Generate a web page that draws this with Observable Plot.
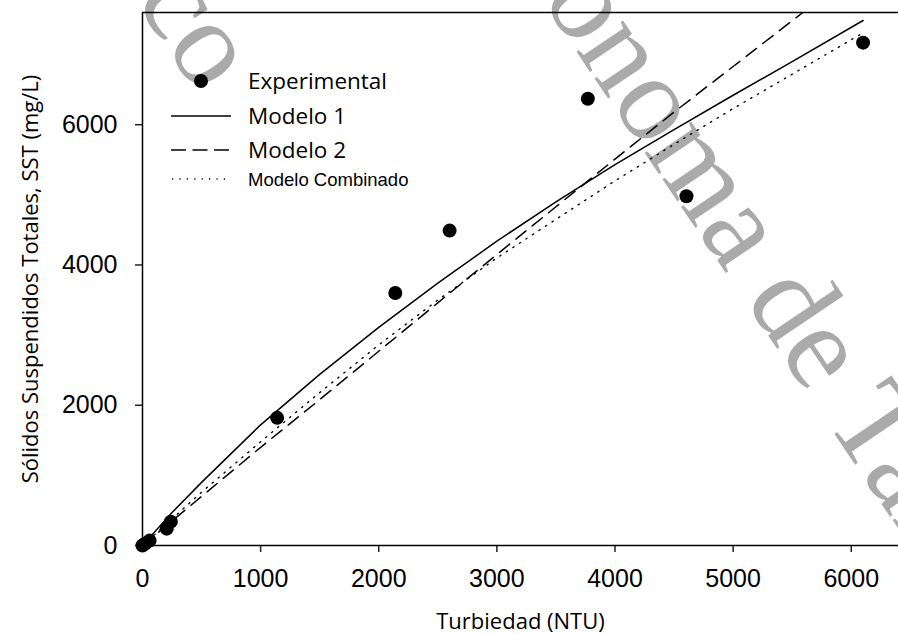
<!DOCTYPE html>
<html><head><meta charset="utf-8">
<script src="https://cdn.jsdelivr.net/npm/d3@7"></script>
<script src="https://cdn.jsdelivr.net/npm/@observablehq/plot@0.6"></script>
<style>
body{margin:0;background:#fff;}
#wrap{position:relative;width:898px;height:634px;overflow:hidden;background:#fff;}
#wrap svg{position:absolute;left:0;top:0;}
</style></head><body><div id="wrap"></div>
<script>
// Experimental points
const expX = [0, 25, 60, 205, 240, 1140, 2140, 2600, 3770, 4605, 6100];
const expY = [0, 30, 70, 240, 340, 1820, 3600, 4490, 6370, 4980, 7170];
// Modelo 1 (solid)
const m1X = [0, 250, 500, 1000, 1500, 2000, 2500, 3000, 3500, 4000, 4500, 5000, 5500, 6100];
const m1Y = [0, 470, 900, 1720, 2440, 3110, 3740, 4340, 4900, 5430, 5930, 6420, 6900, 7486];
// Modelo 2 (dashed)
const m2X = [0, 500, 1000, 1500, 2000, 2500, 3000, 3500, 4000, 4500, 5000, 5590];
const m2Y = [0, 700, 1400, 2080, 2770, 3460, 4150, 4830, 5510, 6180, 6830, 7600];
// Modelo Combinado (dotted)
const mcX = [0, 500, 1000, 1500, 2000, 2500, 3000, 3500, 4000, 4500, 5000, 5500, 6090];
const mcY = [0, 760, 1480, 2180, 2860, 3500, 4100, 4650, 5200, 5720, 6230, 6720, 7300];
const xTicks = [0, 1000, 2000, 3000, 4000, 5000, 6000];
const yTicks = [0, 2000, 4000, 6000];
const xDomain = [0, 6400];
const yDomain = [0, 7600];
const legendLabels = ["Experimental", "Modelo 1", "Modelo 2", "Modelo Combinado"];
const watermarkTexts = ["ico", "ónoma de Tamaulipas"];

const pts = expX.map((x, i) => ({x, y: expY[i]}));
const l1 = m1X.map((x, i) => ({x, y: m1Y[i]}));
const l2 = m2X.map((x, i) => ({x, y: m2Y[i]}));
const lc = mcX.map((x, i) => ({x, y: mcY[i]}));

const wrap = d3.select("#wrap");
// Watermark (behind chart)
const wm = wrap.append("svg").attr("width", 898).attr("height", 634);
const wmStyle = s => s.attr("fill", "#aaaaaa").style("font-family", "'Liberation Serif', 'Times New Roman', serif").style("font-size", "122px");
wm.append("text").attr("transform", "translate(115,-28) rotate(56)").call(wmStyle).text(watermarkTexts[0]);
wm.append("text").attr("transform", "translate(541,-1) rotate(56)").call(wmStyle).text(watermarkTexts[1]);

const chart = Plot.plot({
  width: 898, height: 634,
  marginLeft: 142, marginRight: 0, marginTop: 12, marginBottom: 89,
  style: {background: "transparent", color: "#000", overflow: "visible"},
  x: {domain: xDomain, ticks: xTicks},
  y: {domain: yDomain, ticks: yTicks},
  marks: [
    Plot.axisX({ticks: xTicks, tickSize: 7, tickPadding: 17, tickFormat: d => String(d),
      fontSize: 25, fontFamily: "Liberation Sans, Arial, sans-serif", stroke: "#222", strokeWidth: 1.5,
      label: "Turbiedad (NTU)", labelAnchor: "center", labelArrow: "none", labelOffset: 83}),
    Plot.axisY({ticks: yTicks, tickSize: 7, tickPadding: 18, tickFormat: d => String(d),
      fontSize: 25, fontFamily: "Liberation Sans, Arial, sans-serif", stroke: "#222", strokeWidth: 1.5,
      label: "Sólidos Suspendidos Totales, SST (mg/L)", labelAnchor: "center", labelArrow: "none", labelOffset: 120}),
    Plot.ruleY([yDomain[0]], {stroke: "#000", strokeWidth: 1.5}),
    Plot.ruleY([yDomain[1]], {stroke: "#000", strokeWidth: 1.5}),
    Plot.ruleX([xDomain[0]], {stroke: "#000", strokeWidth: 1.5}),
    Plot.line(lc, {x: "x", y: "y", stroke: "#000", strokeWidth: 1.4, strokeDasharray: "1.3,6.5", clip: true}),
    Plot.line(l2, {x: "x", y: "y", stroke: "#000", strokeWidth: 1.5, strokeDasharray: "13,8", clip: true}),
    Plot.line(l1, {x: "x", y: "y", stroke: "#000", strokeWidth: 1.5, clip: true}),
    Plot.dot(pts, {x: "x", y: "y", r: 7, fill: "#000", stroke: "none"})
  ]
});
document.getElementById("wrap").appendChild(chart);
d3.select(chart).selectAll("g[aria-label='x-axis label'] text, g[aria-label='y-axis label'] text")
  .style("font-family", "'Open Sans', sans-serif").style("font-size", "22px");

// Legend overlay
const lg = wrap.append("svg").attr("width", 898).attr("height", 634);
const rowsY = [81, 116, 150, 179];
const g = lg.append("g");
g.append("circle").attr("cx", 201).attr("cy", rowsY[0]).attr("r", 7).attr("fill", "#000");
g.append("line").attr("x1", 171).attr("x2", 231).attr("y1", rowsY[1]).attr("y2", rowsY[1]).attr("stroke", "#000").attr("stroke-width", 1.5);
g.append("line").attr("x1", 171).attr("x2", 231).attr("y1", rowsY[2]).attr("y2", rowsY[2]).attr("stroke", "#000").attr("stroke-width", 1.5).attr("stroke-dasharray", "15,6.5");
g.append("line").attr("x1", 172).attr("x2", 231).attr("y1", rowsY[3]).attr("y2", rowsY[3]).attr("stroke", "#000").attr("stroke-width", 1.3).attr("stroke-dasharray", "1.2,6.2");
legendLabels.forEach((t, i) => {
  g.append("text").attr("x", 248).attr("y", rowsY[i]).attr("dy", "0.36em")
    .style("font-family", i === 3 ? "'Liberation Sans', Arial, sans-serif" : "'Open Sans', sans-serif")
    .style("font-size", i === 3 ? "18.5px" : "22.5px").attr("fill", "#000").text(t);
});
</script></body></html>
